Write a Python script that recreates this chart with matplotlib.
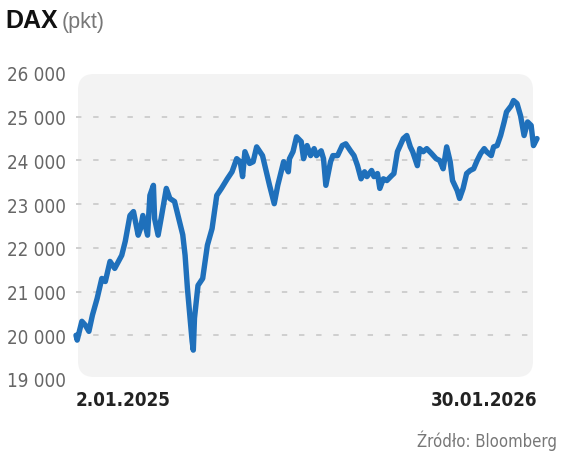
import matplotlib
matplotlib.use("Agg")
import matplotlib.pyplot as plt
from matplotlib.patches import FancyBboxPatch
from matplotlib.ticker import FuncFormatter
from matplotlib import font_manager
import pandas as pd

# DAX close
dates = [
    "2025-01-02", "2025-01-03", "2025-01-07", "2025-01-10", "2025-01-13", "2025-01-16",
    "2025-01-20", "2025-01-24", "2025-01-27", "2025-01-31", "2025-02-04", "2025-02-10",
    "2025-02-13", "2025-02-17", "2025-02-20", "2025-02-24", "2025-02-26", "2025-02-28",
    "2025-03-04", "2025-03-06", "2025-03-09", "2025-03-10", "2025-03-13", "2025-03-16",
    "2025-03-20", "2025-03-23", "2025-03-27", "2025-04-01", "2025-04-03", "2025-04-05",
    "2025-04-07", "2025-04-09", "2025-04-11", "2025-04-12", "2025-04-13", "2025-04-16",
    "2025-04-20", "2025-04-24", "2025-04-28", "2025-05-02", "2025-05-06", "2025-05-11",
    "2025-05-15", "2025-05-19", "2025-05-22", "2025-05-24", "2025-05-26", "2025-05-30",
    "2025-06-02", "2025-06-05", "2025-06-10", "2025-06-14", "2025-06-16", "2025-06-20",
    "2025-06-23", "2025-06-28", "2025-07-02", "2025-07-03", "2025-07-06", "2025-07-09",
    "2025-07-13", "2025-07-15", "2025-07-18", "2025-07-21", "2025-07-24", "2025-07-26",
    "2025-07-30", "2025-08-01", "2025-08-03", "2025-08-07", "2025-08-09", "2025-08-13",
    "2025-08-17", "2025-08-20", "2025-08-24", "2025-08-27", "2025-08-30", "2025-09-02",
    "2025-09-05", "2025-09-07", "2025-09-11", "2025-09-13", "2025-09-16", "2025-09-18",
    "2025-09-21", "2025-09-24", "2025-09-28", "2025-09-30", "2025-10-03", "2025-10-06",
    "2025-10-08", "2025-10-11", "2025-10-14", "2025-10-16", "2025-10-20", "2025-10-22",
    "2025-10-25", "2025-10-28", "2025-11-01", "2025-11-05", "2025-11-08", "2025-11-11",
    "2025-11-14", "2025-11-17", "2025-11-19", "2025-11-23", "2025-11-25", "2025-11-28",
    "2025-12-01", "2025-12-04", "2025-12-07", "2025-12-10", "2025-12-13", "2025-12-16",
    "2025-12-18", "2025-12-22", "2025-12-24", "2025-12-27", "2025-12-30", "2026-01-02",
    "2026-01-04", "2026-01-08", "2026-01-10", "2026-01-13", "2026-01-16", "2026-01-19",
    "2026-01-22", "2026-01-25", "2026-01-27", "2026-01-30",
]
values = [
    20000, 19890, 20320, 20230, 20090, 20460,
    20840, 21300, 21230, 21690, 21530, 21830,
    22150, 22740, 22830, 22290, 22440, 22740,
    22290, 23200, 23430, 22670, 22290, 22740,
    23360, 23130, 23060, 22510, 22300, 21830,
    21070, 20460, 19860, 19660, 20390, 21140,
    21300, 22060, 22440, 23200, 23360, 23580,
    23740, 24040, 23970, 23630, 24200, 23930,
    23970, 24310, 24110, 23650, 23430, 23010,
    23430, 23970, 23740, 24040, 24200, 24540,
    24430, 24040, 24340, 24110, 24270, 24110,
    24220, 24040, 23430, 23970, 24110, 24110,
    24340, 24380, 24220, 24110, 23880, 23580,
    23740, 23630, 23770, 23630, 23700, 23360,
    23580, 23540, 23650, 23700, 24200, 24380,
    24500, 24570, 24310, 24200, 23880, 24270,
    24200, 24270, 24160, 24040, 24000, 23810,
    24310, 23970, 23540, 23310, 23130, 23360,
    23700, 23770, 23810, 24000, 24160, 24270,
    24200, 24110, 24310, 24340, 24570, 24880,
    25110, 25250, 25370, 25300, 25020, 24570,
    24880, 24800, 24340, 24500,
]
y_ticks = [19000, 20000, 21000, 22000, 23000, 24000, 25000, 26000]
grid_levels = [20000, 21000, 22000, 23000, 24000, 25000]
x_ticks = ["2025-01-02", "2026-01-30"]
x_labels = ["2.01.2025", "30.01.2026"]

# condensed face if the system has one
fams = {f.name for f in font_manager.fontManager.ttflist}
cond = [f for f in font_manager.fontManager.ttflist
        if f.name == "DejaVu Sans" and f.stretch == "condensed"]
narrow = ["Liberation Sans Narrow"] if "Liberation Sans Narrow" in fams else []
narrow += ["DejaVu Sans"] if cond else ["Liberation Sans"]
stretch = "condensed" if (cond and not narrow[0].startswith("Liberation Sans N")) else "normal"
blue = "#1f70bb"

dates = pd.to_datetime(dates)
x_ticks = pd.to_datetime(x_ticks)

fig = plt.figure(figsize=(5.64, 4.52), dpi=100)
ax = fig.add_axes([76 / 564, 1 - 380 / 452, 461 / 564, 306 / 452])
ax.patch.set_visible(False)

# grey rounded panel behind the plot
panel = FancyBboxPatch((0.78, 0.74), 4.55, 3.03,
                       boxstyle="round,pad=0,rounding_size=0.16",
                       transform=fig.dpi_scale_trans, facecolor="#f3f3f3",
                       edgecolor="none", zorder=0, clip_on=False)
ax.add_patch(panel)

for lv in grid_levels:
    ax.axhline(lv, color="#cccccc", lw=1.3, dashes=(3, 6.5), zorder=1)

ax.plot(dates, values, color=blue, lw=3.9, solid_joinstyle="round",
        solid_capstyle="round", zorder=3, clip_on=False)

ax.set_ylim(19000, 26000)
ax.set_xlim(x_ticks[0], x_ticks[1])
ax.set_yticks(y_ticks)
ax.yaxis.set_major_formatter(FuncFormatter(lambda v, p: f"{int(v):,}".replace(",", " ")))
ax.set_xticks(x_ticks)
ax.set_xticklabels(x_labels)
for lab, ha in zip(ax.get_xticklabels(), ["left", "right"]):
    lab.set_ha(ha)
    lab.set_family(narrow)
    lab.set_stretch(stretch)
    lab.set_fontweight("bold")
    lab.set_fontsize(13.5)
    lab.set_color("#222222")
for lab in ax.get_yticklabels():
    lab.set_family(narrow)
    lab.set_stretch(stretch)
    lab.set_fontsize(13.5)
    lab.set_color("#666666")

ax.tick_params(axis="both", length=0)
ax.tick_params(axis="y", pad=7)
ax.tick_params(axis="x", pad=8)
for s in ax.spines.values():
    s.set_visible(False)

fig.text(5 / 564, 1 - 28 / 452, "DAX", family=["Liberation Sans", "DejaVu Sans"],
         fontweight="bold", fontsize=18, color="#111111", ha="left", va="baseline")
fig.text(62 / 564, 1 - 28 / 452, "(pkt)", family=["Liberation Sans", "DejaVu Sans"],
         fontsize=15.5, color="#777777", ha="left", va="baseline")
fig.text(557 / 564, 1 - 447 / 452, "Źródło: Bloomberg", family=narrow, stretch=stretch,
         fontsize=12, color="#777777", ha="right", va="baseline")

fig.savefig("out.png", dpi=100)
